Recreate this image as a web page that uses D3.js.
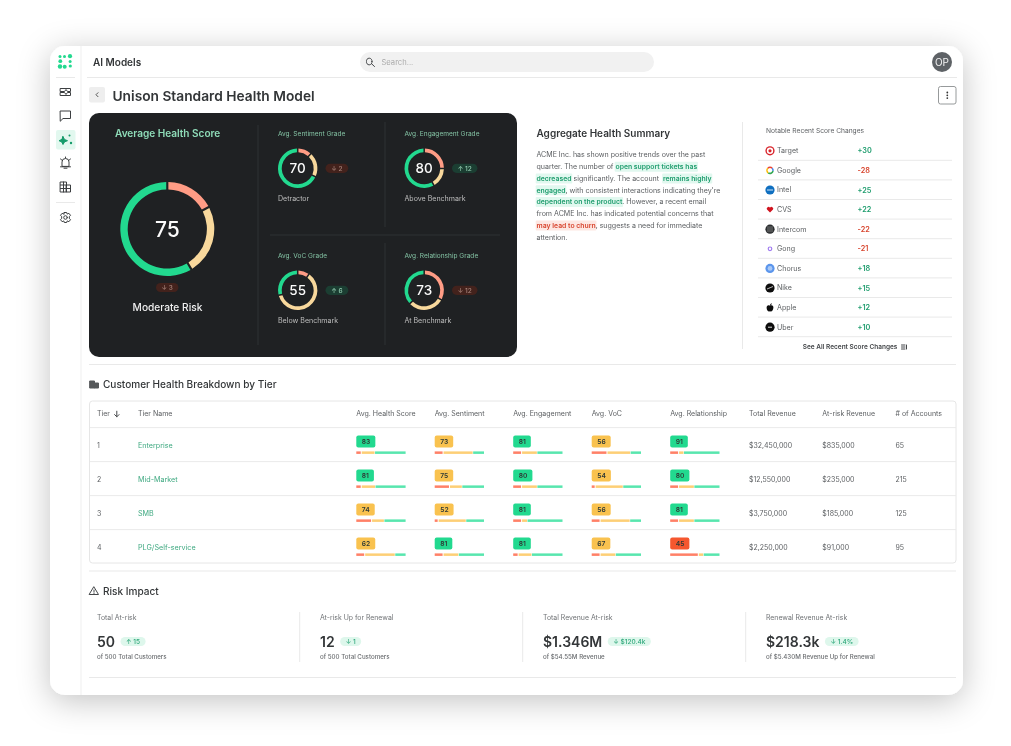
<!DOCTYPE html>
<html>
<head>
<meta charset="utf-8">
<title>Unison Standard Health Model</title>
<script src="https://cdn.jsdelivr.net/npm/d3@7"></script>
<style>
  html, body { margin: 0; padding: 0; background: #fff; }
  svg { display: block; font-family: Inter, "Noto Sans", sans-serif; filter: blur(0.35px); }
</style>
</head>
<body>
<div id="vis"></div>
<script>
// Main data
const gradeTitles = ['Avg. Sentiment Grade', 'Avg. Engagement Grade', 'Avg. VoC Grade', 'Avg. Relationship Grade'];
const gradeScores = [70, 80, 55, 73];
const gradeLabels = ['Detractor', 'Above Benchmark', 'Below Benchmark', 'At Benchmark'];
const gradeDeltas = ['↓ 2', '↑ 12', '↑ 6', '↓ 12'];
const gradeSplits = [[11, 20, 69], [25, 16, 59], [9, 62, 29], [33, 30, 37]];
const healthSplit = [17, 24, 59];

const changeNames = ['Target', 'Google', 'Intel', 'CVS', 'Intercom', 'Gong', 'Chorus', 'Nike', 'Apple', 'Uber'];
const changeValues = [30, -28, 25, 22, -22, -21, 18, 15, 12, 10];

const tierIds = ['1', '2', '3', '4'];
const tierNames = ['Enterprise', 'Mid-Market', 'SMB', 'PLG/Self-service'];
const scoreColumns = ['Avg. Health Score', 'Avg. Sentiment', 'Avg. Engagement', 'Avg. VoC', 'Avg. Relationship'];
const tierScores = [
  [83, 73, 81, 56, 91],
  [81, 75, 80, 54, 80],
  [74, 52, 81, 56, 81],
  [62, 81, 81, 67, 45]
];
const tierSplits = [
  [[10, 27, 63], [17, 60, 23], [17, 31, 52], [31, 47, 22], [17, 10, 73]],
  [[10, 28, 62], [30, 25, 45], [17, 31, 52], [7, 56, 37], [17, 31, 52]],
  [[31, 25, 44], [7, 56, 37], [17, 11, 72], [17, 60, 23], [17, 31, 52]],
  [[17, 61, 22], [17, 31, 52], [10, 27, 63], [17, 31, 52], [57, 10, 33]]
];
const totalRevenue = ['$32,450,000', '$12,550,000', '$3,750,000', '$2,250,000'];
const atRiskRevenue = ['$835,000', '$235,000', '$185,000', '$91,000'];
const accountCounts = ['65', '215', '125', '95'];

const riskTitles = ['Total At-risk', 'At-risk Up for Renewal', 'Total Revenue At-risk', 'Renewal Revenue At-risk'];
const riskValues = ['50', '12', '$1.346M', '$218.3k'];
const riskDeltas = ['↑ 15', '↓ 1', '↓ $120.4k', '↓ 1.4%'];
const riskNotes = ['of 500 Total Customers', 'of 500 Total Customers', 'of $54.55M Revenue', 'of $5.430M Revenue Up for Renewal'];

const summaryLines = [
  [['ACME Inc. has shown positive trends over the past', 'n']],
  [['quarter. The number of ', 'n'], ['open support tickets has', 'g']],
  [['decreased', 'g'], [' significantly. The account  ', 'n'], ['remains highly', 'g']],
  [['engaged', 'g'], [', with consistent interactions indicating they\'re', 'n']],
  [['dependent on the product', 'g'], ['. However, a recent email', 'n']],
  [['from ACME Inc. has indicated potential concerns that', 'n']],
  [['may lead to churn', 'r'], [', suggests a need for immediate', 'n']],
  [['attention.', 'n']]
];

const width = 1011, height = 746;
const ink = '#333638', muted = '#5c5f62', line = '#e9e9e9';
const green = '#1f9d6e', red = '#d8452e';
const donutColors = ['#ff9c85', '#f8d89c', '#22d98f'];
const barColors = ['#ff8067', '#fdcf76', '#58e6ae'];

const svg = d3.select('#vis').append('svg')
  .attr('width', width).attr('height', height)
  .attr('viewBox', `0 0 ${width} ${height}`);

const shadow = svg.append('defs').append('filter')
  .attr('id', 'shadow').attr('x', '-10%').attr('y', '-10%').attr('width', '120%').attr('height', '125%');
shadow.append('feDropShadow')
  .attr('dx', 0).attr('dy', 6).attr('stdDeviation', 16)
  .attr('flood-color', '#000').attr('flood-opacity', 0.24);

function label(g, x, y, str, size, color, weight, anchor) {
  return g.append('text')
    .attr('x', x).attr('y', y).attr('dy', '0.35em')
    .attr('font-size', size).attr('fill', color)
    .attr('font-weight', weight || 400)
    .attr('text-anchor', anchor || 'start')
    .text(str);
}

function rule(x1, y1, x2, y2, color) {
  svg.append('line').attr('x1', x1).attr('y1', y1).attr('x2', x2).attr('y2', y2)
    .attr('stroke', color || line).attr('stroke-width', 1);
}

function icon(cx, cy, d, color, fill) {
  svg.append('path').attr('transform', `translate(${cx},${cy})`).attr('d', d)
    .attr('fill', fill || 'none').attr('stroke', color || '#3c3f41')
    .attr('stroke-width', 1).attr('stroke-linecap', 'round').attr('stroke-linejoin', 'round');
}

function pill(g, x, cy, str, bg, fg, size, padding) {
  const p = g.append('g');
  const bgRect = p.append('rect').attr('fill', bg);
  const t = label(p, x + padding, cy, str, size, fg, 500);
  const w = t.node().getComputedTextLength() + padding * 2;
  bgRect.attr('x', x).attr('y', cy - 4.6).attr('width', w).attr('height', 9.2).attr('rx', 4.6);
  return w;
}

function donut(g, cx, cy, outer, thickness, split, pad) {
  const arcs = d3.pie().sort(null).padAngle(pad)(split);
  const arc = d3.arc().innerRadius(outer - thickness).outerRadius(outer);
  g.append('g').attr('transform', `translate(${cx},${cy})`)
    .selectAll('path').data(arcs).join('path')
    .attr('d', arc)
    .attr('fill', (d, i) => donutColors[i]);
}

// Card
svg.append('rect').attr('x', 50).attr('y', 46).attr('width', 913).attr('height', 649).attr('rx', 15)
  .attr('fill', '#fff').attr('filter', 'url(#shadow)');

// Sidebar
rule(81, 46, 81, 695, '#efefef');
rule(56, 77.5, 75, 77.5);
rule(56, 202.5, 75, 202.5);
svg.append('rect').attr('x', 56).attr('y', 130).attr('width', 19.5).attr('height', 19.5).attr('rx', 2).attr('fill', '#e2f8ef');

const logoDots = [[-5.5, -5.5, 1.5], [-1, -5.5, 1.5], [4.5, -5.8, 2.1], [-5.2, -0.8, 1.9], [4.6, -0.6, 1.5], [-5.5, 4.5, 2.2], [-0.8, 4.8, 2], [4.8, 4, 1.6]];
svg.append('g').attr('transform', 'translate(65.5,62)')
  .selectAll('circle').data(logoDots).join('circle')
  .attr('cx', d => d[0]).attr('cy', d => d[1]).attr('r', d => d[2]).attr('fill', '#22d98f');

icon(65.5, 92, 'M-5 -3.5H5V-0.5H2L0.5 -2.5L-1 -0.5H-5ZM-5 3.5H5V0.5H2L0.5 2.5L-1 0.5H-5Z');
icon(65.5, 115.5, 'M-5 -4.5H5V3H-2.5L-5 5.5Z');
icon(65.5, 139.5, 'M-2.5 -3L-1 0L2 1.2L-1 2.4L-2.5 5L-3.8 2.4L-6.5 1.2L-3.8 0Z', '#159c6b', '#159c6b');
svg.append('circle').attr('cx', 69.5).attr('cy', 135.5).attr('r', 1).attr('fill', '#159c6b');
svg.append('circle').attr('cx', 71).attr('cy', 143).attr('r', 1.2).attr('fill', '#159c6b');
icon(65.5, 163, 'M-3.5 3V-1A3.5 3.5 0 0 1 3.5 -1V3ZM-5 3.8H5M-1.5 5.2H1.5M-5 -4L-3.8 -3M5 -4L3.8 -3M0 -6V-5');
icon(65.5, 187, 'M-5 -5H1V5H-5ZM1 -2H5V5H1ZM-5 -2H1M-5 1.5H5M-2 -5V5');
icon(65.5, 217.5, 'M-1.2 -5H1.2L1.7 -3.4L3.4 -4.2L5 -2.2L3.8 -0.8V0.8L5 2.2L3.4 4.2L1.7 3.4L1.2 5H-1.2L-1.7 3.4L-3.4 4.2L-5 2.2L-3.8 0.8V-0.8L-5 -2.2L-3.4 -4.2L-1.7 -3.4ZM1.8 0A1.8 1.8 0 1 1 -1.8 0A1.8 1.8 0 1 1 1.8 0Z');

// Top bar
label(svg, 93, 62, 'AI Models', 10, ink, 600);
svg.append('rect').attr('x', 360).attr('y', 52).attr('width', 294).attr('height', 20).attr('rx', 10).attr('fill', '#f1f1f1');
icon(370.5, 61.5, 'M1.5 0A2.8 2.8 0 1 1 -4 0A2.8 2.8 0 1 1 1.5 0ZM0.8 2L4 5', '#45484a');
label(svg, 381.5, 62.3, 'Search...', 7.6, '#ababab');
svg.append('circle').attr('cx', 942).attr('cy', 62).attr('r', 10).attr('fill', '#5e6266');
label(svg, 942, 62, 'OP', 10, '#f2f2f2', 400, 'middle');
rule(87, 77.5, 957, 77.5);

// Title row
svg.append('rect').attr('x', 89).attr('y', 87).attr('width', 16).attr('height', 15.5).attr('rx', 2).attr('fill', '#eeeeee');
icon(97, 94.7, 'M1 -2L-1 0L1 2', '#555');
label(svg, 112.5, 95.7, 'Unison Standard Health Model', 13.75, ink, 600);
svg.append('rect').attr('x', 938.5).attr('y', 86.5).attr('width', 17.5).attr('height', 17.5).attr('rx', 2)
  .attr('fill', '#fff').attr('stroke', '#8b8e90').attr('stroke-width', 0.9);
[-2.8, 0, 2.8].forEach(dy => svg.append('circle').attr('cx', 947.3).attr('cy', 95.3 + dy).attr('r', 0.9).attr('fill', '#333'));

// Dark panel
svg.append('rect').attr('x', 89).attr('y', 113).attr('width', 428).attr('height', 244).attr('rx', 10).attr('fill', '#1f2123');
rule(258, 125, 258, 345, '#2f3234');
rule(385, 122, 385, 227, '#2f3234');
rule(385, 243, 385, 345, '#2f3234');
rule(270, 235, 500, 235, '#2f3234');

label(svg, 115, 133.3, 'Average Health Score', 10.05, '#8fdcb8', 600);
donut(svg, 167.3, 229, 47, 7.4, healthSplit, 0.035);
label(svg, 167.3, 229.5, '75', 21, '#fbfbfb', 500, 'middle');
pill(svg, 156, 287.5, '↓ 3', '#43221c', '#a8847a', 6.5, 5.5);
label(svg, 167.5, 307.8, 'Moderate Risk', 10.2, '#efefef', 500, 'middle');

const gradeX = [278, 404.5];
const gradeY = [134, 256];
gradeTitles.forEach((title, i) => {
  const x = gradeX[i % 2], y = gradeY[Math.floor(i / 2)];
  const up = gradeDeltas[i].startsWith('↑');
  label(svg, x, y, title, 6.55, '#84c3a4');
  donut(svg, x + 19.7, y + 34.3, 19.7, 3.7, gradeSplits[i], 0.06);
  label(svg, x + 19.7, y + 34.5, gradeScores[i], 13.5, '#fbfbfb', 500, 'middle');
  pill(svg, x + 47.5, y + 34.3, gradeDeltas[i], up ? '#1b3e32' : '#43221c', up ? '#93cdb1' : '#a8847a', 6.5, 5.7);
  label(svg, x, y + 64.2, gradeLabels[i], 7.05, '#bdbdbd');
});

// Summary
label(svg, 536.5, 133.3, 'Aggregate Health Summary', 10, ink, 600);
const summaryY = d3.scaleLinear().domain([0, 7]).range([155, 237.3]);
const kindStyle = {
  n: { color: muted, weight: 400, size: 7.05 },
  g: { color: green, weight: 600, size: 6.85, bg: '#e1f8ef' },
  r: { color: red, weight: 600, size: 6.85, bg: '#fde7e2' }
};
summaryLines.forEach((segments, i) => {
  let x = 536.5;
  const y = summaryY(i);
  segments.forEach(([str, kind]) => {
    const style = kindStyle[kind];
    const bg = svg.append('rect');
    const t = label(svg, x, y, str, style.size, style.color, style.weight).attr('xml:space', 'preserve').style('white-space', 'pre');
    const w = t.node().getComputedTextLength();
    if (style.bg) {
      bg.attr('x', x - 0.8).attr('y', y - 5).attr('width', w + 1.6).attr('height', 10).attr('rx', 1).attr('fill', style.bg);
    } else {
      bg.remove();
    }
    x += w;
  });
});

// Score changes
rule(742.5, 122, 742.5, 349);
label(svg, 766, 130.5, 'Notable Recent Score Changes', 6.65, muted);
const changeY = d3.scaleBand().domain(changeNames).range([141, 337]);

function drawLogo(name, cx, cy) {
  const g = svg.append('g').attr('transform', `translate(${cx},${cy})`);
  const disc = (r, fill) => g.append('circle').attr('r', r).attr('fill', fill);
  if (name === 'Target') { disc(4.6, '#d8232a'); disc(3.2, '#fff'); disc(1.6, '#d8232a'); }
  if (name === 'Google') {
    const arc = d3.arc().innerRadius(2.2).outerRadius(3.8);
    [['#ea4335', -0.8, 0.8], ['#4285f4', 0.8, 1.7], ['#34a853', 1.7, 3.8], ['#fbbc05', 3.8, 5.5]].forEach(([c, a, b]) =>
      g.append('path').attr('d', arc({ startAngle: a, endAngle: b })).attr('fill', c));
  }
  if (name === 'Intel') { disc(4.6, '#0f6fc0'); g.append('rect').attr('x', -3).attr('y', -0.5).attr('width', 6).attr('height', 1).attr('fill', '#cfe4f5'); }
  if (name === 'CVS') { g.append('path').attr('d', 'M0 3L-3 0A1.6 1.6 0 0 1 0 -1.8A1.6 1.6 0 0 1 3 0Z').attr('fill', '#d0141f'); }
  if (name === 'Intercom') { disc(4.6, '#2c2e30'); [-2, 0, 2].forEach(dx => g.append('rect').attr('x', dx - 0.3).attr('y', -3).attr('width', 0.6).attr('height', 6).attr('fill', '#aaa')); }
  if (name === 'Gong') { g.append('circle').attr('r', 1.8).attr('fill', 'none').attr('stroke', '#a07cf0').attr('stroke-width', 1.2); }
  if (name === 'Chorus') { disc(4.6, '#5b95ec'); disc(2.4, '#a8c8f6'); }
  if (name === 'Nike') { disc(4.6, '#0d0d0d'); g.append('path').attr('d', 'M-3 1L3 -1.5L-1.5 0.4Z').attr('fill', '#fff').attr('stroke', '#fff').attr('stroke-width', 0.4); }
  if (name === 'Apple') { g.append('path').attr('d', 'M0 -1.8C2 -3 3.6 -1.8 3.4 0.2C3.2 2.4 2 4 1 4C0.4 4 0.4 3.6 0 3.6C-0.4 3.6 -0.4 4 -1 4C-2 4 -3.4 2.2 -3.4 0.2C-3.4 -1.8 -2 -3 0 -1.8ZM0 -2.2C0 -3.4 0.8 -4.2 1.8 -4.4C1.8 -3.2 1 -2.4 0 -2.2Z').attr('fill', '#0d0d0d'); }
  if (name === 'Uber') { disc(4.6, '#0d0d0d'); g.append('rect').attr('x', -2).attr('y', -0.5).attr('width', 4).attr('height', 1).attr('fill', '#ddd'); }
}

changeNames.forEach((name, i) => {
  const y = changeY(name) + changeY.bandwidth() / 2;
  drawLogo(name, 770, y);
  label(svg, 777, y, name, 7.1, muted);
  const v = changeValues[i];
  label(svg, 857.5, y, (v > 0 ? '+' : '') + v, 7.3, v > 0 ? green : red, 600);
  rule(758, changeY(name) + changeY.bandwidth() - 0.3, 952, changeY(name) + changeY.bandwidth() - 0.3);
});
label(svg, 802.7, 347, 'See All Recent Score Changes', 6.5, '#44474a', 600);
icon(904, 347, 'M-2.5 -2H1M-2.5 0H1M-2.5 2H1M2.5 -2L2.5 2', '#44474a');

rule(89, 364.5, 956, 364.5);

// Tier table
icon(94, 384.5, 'M-4 -3.5H0.5V3.5H-4ZM0.5 -1.5H4.5V3.5H0.5Z', '#55585a', '#55585a');
label(svg, 103, 384.7, 'Customer Health Breakdown by Tier', 10.05, ink, 500);
svg.append('rect').attr('x', 89.5).attr('y', 401).attr('width', 866.5).attr('height', 162).attr('rx', 3)
  .attr('fill', '#fff').attr('stroke', '#e6e6e6').attr('stroke-width', 1);

const headerY = 414;
const headerSize = 7.02;
label(svg, 97, headerY, 'Tier', headerSize, muted);
icon(116.8, headerY, 'M0 -2.8V2.8M-2.2 0.6L0 2.8L2.2 0.6', '#45484a');
label(svg, 138, headerY, 'Tier Name', headerSize, muted);
const scoreX = [356.3, 434.7, 513.2, 591.7, 670.2];
scoreColumns.forEach((name, c) => label(svg, scoreX[c], headerY, name, headerSize, muted));
label(svg, 749, headerY, 'Total Revenue', headerSize, muted);
label(svg, 822.3, headerY, 'At-risk Revenue', headerSize, muted);
label(svg, 895.5, headerY, '# of Accounts', headerSize, muted);

const rowY = d3.scaleBand().domain(tierIds).range([427.6, 563.6]);
const splitWidth = d3.scaleLinear().domain([0, 100]).range([0, 49.3]);

function badgeColor(v) {
  if (v >= 80) return '#22d98f';
  if (v >= 50) return '#f9c24f';
  return '#f5572f';
}

tierIds.forEach((id, r) => {
  const top = rowY(id);
  rule(90, top, 956, top, '#eaeaea');
  label(svg, 97, top + 17.5, id, 7, muted);
  label(svg, 138, top + 17.5, tierNames[r], 7.2, '#3fa981');
  label(svg, 749, top + 17.5, totalRevenue[r], 7, muted);
  label(svg, 822.3, top + 17.5, atRiskRevenue[r], 7, muted);
  label(svg, 895.5, top + 17.5, accountCounts[r], 7, muted);

  scoreColumns.forEach((name, c) => {
    const x = scoreX[c], v = tierScores[r][c];
    const cell = svg.append('g');
    const bg = cell.append('rect').attr('fill', badgeColor(v));
    const t = label(cell, x + 5.5, top + 14, v, 6.7, '#2f3a36', 600);
    bg.attr('x', x).attr('y', top + 7.8).attr('width', t.node().getComputedTextLength() + 10.5)
      .attr('height', 12.2).attr('rx', 2);

    const segments = tierSplits[r][c];
    const cuts = d3.cumsum(segments);
    cell.selectAll('.seg').data(segments).join('rect')
      .attr('class', 'seg')
      .attr('x', (d, i) => x + splitWidth(i ? cuts[i - 1] : 0) + (i ? 0.5 : 0))
      .attr('y', top + 23.8)
      .attr('width', d => Math.max(splitWidth(d) - 0.5, 1))
      .attr('height', 2.5)
      .attr('fill', (d, i) => barColors[i]);
  });
});

rule(89, 571, 956, 571);

// Risk impact
icon(94, 591, 'M0 -4L4.5 3.5H-4.5ZM0 -1V1.2M0 2.4V2.5', '#45484a');
label(svg, 103, 591.2, 'Risk Impact', 10.05, ink, 500);
const riskX = d3.scalePoint().domain(riskTitles).range([97, 766]);
riskTitles.forEach((title, i) => {
  const x = riskX(title);
  label(svg, x, 617.7, title, 6.9, '#707376');
  const val = label(svg, x, 642, riskValues[i], 14, ink, 600);
  pill(svg, x + val.node().getComputedTextLength() + 5.5, 641.5, riskDeltas[i], '#def7ec', '#2ea77a', 6.5, 5.5);
  label(svg, x, 656.7, riskNotes[i], 6.2, '#6a6d70', 500);
  if (i < riskTitles.length - 1) rule(x + 202.7, 612, x + 202.7, 662);
});
rule(89, 677.5, 956, 677.5);
</script>
</body>
</html>
